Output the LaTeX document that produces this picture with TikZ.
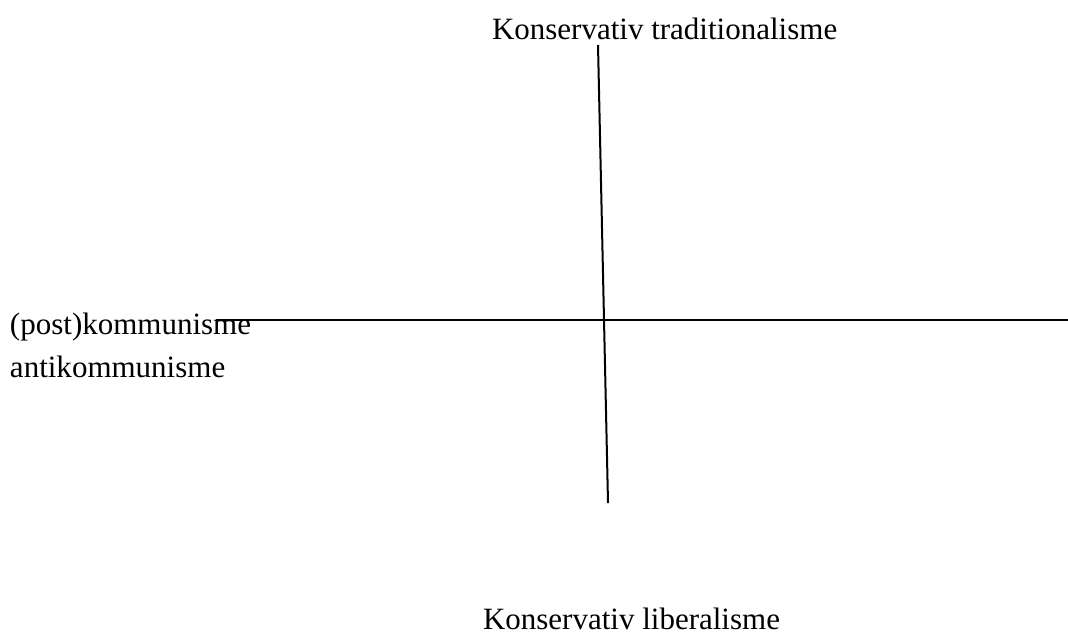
\documentclass[tikz,border=0pt]{standalone}
\usepackage{fontspec}
\setmainfont{Liberation Serif}
\begin{document}
\begin{tikzpicture}[x=0.5pt,y=-0.5pt,
  lbl/.style={anchor=base west,inner sep=0pt,outer sep=0pt,font=\fontsize{15.5}{18}\selectfont},
  axis/.style={line width=1pt,black}]
\useasboundingbox (0,0) rectangle (1068,634);
\node[lbl] (top) at (492,39) {Konservativ traditionalisme};
\node[lbl] (bot) at (483,629) {Konservativ liberalisme};
\node[lbl] (post) at (10,334) {(post)kommunisme};
\node[lbl] (anti) at (10,377) {antikommunisme};
\coordinate (vt) at (598,45);
\coordinate (vb) at (608,503);
\coordinate (hl) at (216,320);
\coordinate (hr) at (1068,320);
\draw[axis] (vt) -- (vb);
\draw[axis] (hl) -- (hr);
\end{tikzpicture}
\end{document}
